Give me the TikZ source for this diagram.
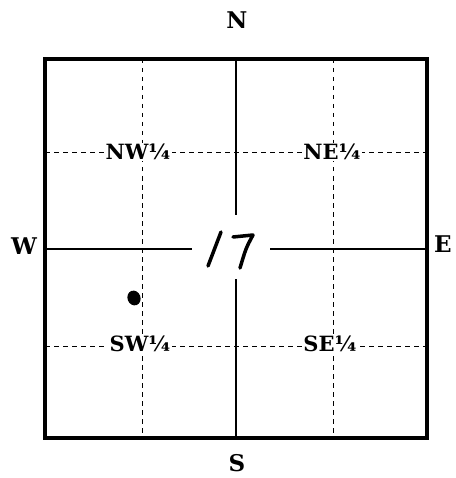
\documentclass[tikz,border=0pt]{standalone}
\usepackage{fontspec}
\setmainfont{DejaVu Serif}
\begin{document}
\begin{tikzpicture}[x=1pt,y=-1pt,
  frame/.style={line width=3.2pt},
  midline/.style={line width=2.2pt},
  dashline/.style={line width=1pt, dash pattern=on 4.5pt off 4.5pt},
  qlabel/.style={fill=white, inner sep=1.5pt, font=\fontsize{21}{23}\selectfont\bfseries},
  dirlabel/.style={inner sep=0pt, font=\fontsize{23}{25}\selectfont\bfseries},
  hand/.style={line width=3.5pt, line cap=round, line join=round}]
\useasboundingbox (0,0) rectangle (455,478);
% coordinates
\coordinate (tl) at (45,59);
\coordinate (br) at (427,438);
\coordinate (tm) at (236,59);
\coordinate (bm) at (236,438);
\coordinate (gapt) at (236,215);
\coordinate (gapb) at (236,279);
\coordinate (lm) at (45,249);
\coordinate (rm) at (427,249);
\coordinate (gapl) at (192,249);
\coordinate (gapr) at (270,249);
% dashed quarter lines
\coordinate (dv1t) at (142,59);  \coordinate (dv1b) at (142,438);
\coordinate (dv2t) at (333,59);  \coordinate (dv2b) at (333,438);
\coordinate (dh1l) at (45,153);  \coordinate (dh1r) at (427,153);
\coordinate (dh2l) at (45,346);  \coordinate (dh2r) at (427,346);
\draw[dashline] (dv1t) -- (dv1b);
\draw[dashline] (dv2t) -- (dv2b);
\draw[dashline] (dh1l) -- (dh1r);
\draw[dashline] (dh2l) -- (dh2r);
% section lines
\draw[midline] (tm) -- (gapt);
\draw[midline] (gapb) -- (bm);
\draw[midline] (lm) -- (gapl);
\draw[midline] (gapr) -- (rm);
\draw[frame] (tl) rectangle (br);
% quarter labels
\node[qlabel] (nw) at (138,152) {NW¼};
\node[qlabel] (ne) at (332,152) {NE¼};
\node[qlabel] (sw) at (140,344) {SW¼};
\node[qlabel] (se) at (330,344) {SE¼};
% direction labels
\node[dirlabel] (n) at (237,20) {N};
\node[dirlabel] (s) at (237,463) {S};
\node[dirlabel] (w) at (24,246) {W};
\node[dirlabel] (e) at (443,244) {E};
% handwritten 17
\coordinate (oneb) at (208,266);
\coordinate (onet) at (221,232);
\coordinate (sevena) at (233,237);
\coordinate (sevenb) at (253,235);
\coordinate (sevenc) at (240,268);
\draw[hand] (oneb) -- (onet);
\draw[hand] (sevena) -- (sevenb) .. controls (246,248) .. (sevenc);
% dot
\fill[rotate around={20:(134,298)}] (134,298) ellipse (6.5pt and 7.5pt);
\end{tikzpicture}
\end{document}
